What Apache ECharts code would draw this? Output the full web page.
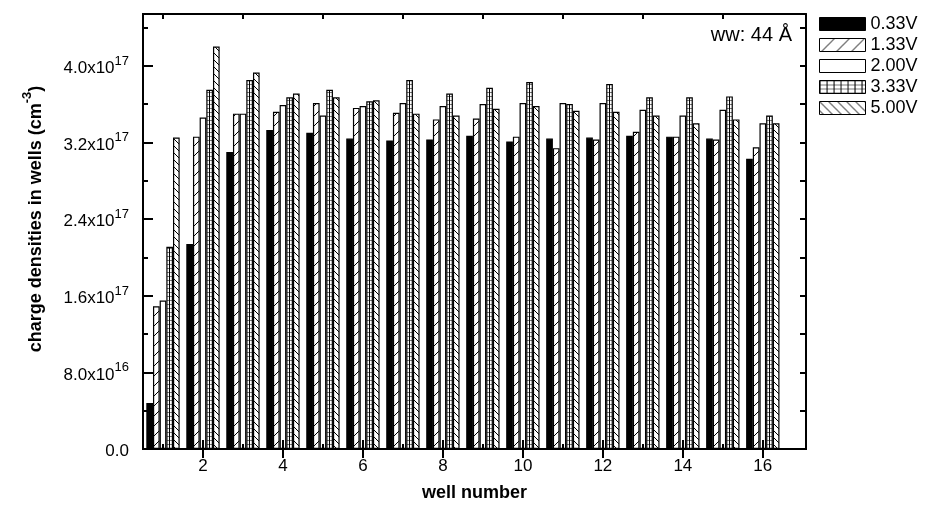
<!DOCTYPE html>
<html lang="en">
  <head>
    <meta charset="UTF-8" />
    <title>charge densities in wells</title>
    <style>
      body, html {
        margin: 0;
        width: 100%;
        height: 100%;
        background: #fff;
      }
    </style>
  </head>
  <body>
    <div id="main" style="width:926px;height:507px;"></div>

    <script src="https://cdn.jsdelivr.net/npm/echarts@6/dist/echarts.min.js"></script>
    <script>
      // values in units of 1e17 cm^-3
      const wells = [1, 2, 3, 4, 5, 6, 7, 8, 9, 10, 11, 12, 13, 14, 15, 16];
      const seriesNames = ['0.33V', '1.33V', '2.00V', '3.33V', '5.00V'];
      const v033 = [0.48, 2.14, 3.10, 3.33, 3.30, 3.24, 3.22, 3.23, 3.27, 3.21, 3.24, 3.25, 3.27, 3.26, 3.24, 3.03];
      const v133 = [1.49, 3.26, 3.50, 3.52, 3.61, 3.56, 3.51, 3.44, 3.45, 3.26, 3.14, 3.23, 3.31, 3.26, 3.23, 3.15];
      const v200 = [1.55, 3.46, 3.50, 3.59, 3.48, 3.58, 3.61, 3.58, 3.60, 3.61, 3.61, 3.61, 3.54, 3.48, 3.54, 3.40];
      const v333 = [2.11, 3.75, 3.85, 3.67, 3.75, 3.63, 3.85, 3.71, 3.77, 3.83, 3.60, 3.81, 3.67, 3.67, 3.68, 3.48];
      const v500 = [3.25, 4.20, 3.93, 3.71, 3.67, 3.64, 3.50, 3.48, 3.55, 3.58, 3.53, 3.52, 3.48, 3.40, 3.44, 3.40];

      const xMajor = [2, 4, 6, 8, 10, 12, 14, 16];
      const xMinor = [1, 3, 5, 7, 9, 11, 13, 15];
      const yMajor = [0, 0.8, 1.6, 2.4, 3.2, 4.0];
      const yMinor = [0.4, 1.2, 2.0, 2.8, 3.6, 4.4];
      const yTickLabels = ['0.0', '8.0x10^16', '1.6x10^17', '2.4x10^17', '3.2x10^17', '4.0x10^17'];

      const FONT = 'Liberation Sans, Arial, sans-serif';

      function pattern(w, h, draw) {
        const c = document.createElement('canvas');
        c.width = w;
        c.height = h;
        const ctx = c.getContext('2d');
        ctx.fillStyle = '#fff';
        ctx.fillRect(0, 0, w, h);
        ctx.strokeStyle = '#000';
        ctx.lineWidth = 1;
        draw(ctx);
        return { image: c, repeat: 'repeat' };
      }

      function slash(p) {
        return pattern(p, p, ctx => {
          ctx.beginPath();
          ctx.moveTo(-1, p + 1); ctx.lineTo(p + 1, -1);
          ctx.moveTo(-1, 1); ctx.lineTo(1, -1);
          ctx.moveTo(p - 1, p + 1); ctx.lineTo(p + 1, p - 1);
          ctx.stroke();
        });
      }

      function backslash(p) {
        return pattern(p, p, ctx => {
          ctx.beginPath();
          ctx.moveTo(-1, -1); ctx.lineTo(p + 1, p + 1);
          ctx.moveTo(p - 1, -1); ctx.lineTo(p + 1, 1);
          ctx.moveTo(-1, p - 1); ctx.lineTo(1, p + 1);
          ctx.stroke();
        });
      }

      function grid(w, h, vx) {
        return pattern(w, h, ctx => {
          ctx.strokeStyle = '#777';
          ctx.beginPath();
          ctx.moveTo(0, 0.5); ctx.lineTo(w, 0.5);
          ctx.stroke();
          ctx.strokeStyle = '#000';
          ctx.beginPath();
          vx.forEach(x => { ctx.moveTo(x, 0); ctx.lineTo(x, h); });
          ctx.stroke();
        });
      }

      const fills = ['#000', slash(10), '#fff', grid(40, 4, [9.5]), backslash(7)];
      const legendFills = ['#000', slash(15), '#fff', grid(46, 4, [0.5, 7.5, 14.5, 21.5, 28.5, 35.5, 42.5]), backslash(9)];
      const values = [v033, v133, v200, v333, v500];

      function richLabel(s) {
        const parts = s.split('^');
        return parts.length > 1 ? '{b|' + parts[0] + '}{s|' + parts[1] + '}' : '{b|' + s + '}';
      }

      const myChart = echarts.init(document.getElementById('main'));

      const xBase = {
        type: 'value',
        min: 0.5,
        max: 17.08,
        z: 3,
        splitLine: { show: false },
        axisLine: { lineStyle: { color: '#000', width: 2 } },
        axisLabel: { show: false },
      };
      const yBase = {
        type: 'value',
        min: 0,
        max: 4.54,
        z: 3,
        splitLine: { show: false },
        axisLine: { lineStyle: { color: '#000', width: 2 } },
        axisLabel: { show: false },
      };

      const option = {
        animation: false,
        backgroundColor: '#fff',
        grid: { left: 143, top: 14, width: 663, height: 436 },
        xAxis: [
          Object.assign({}, xBase, {
            position: 'bottom',
            name: 'well number',
            nameLocation: 'middle',
            nameGap: 35,
            nameTextStyle: { fontFamily: FONT, fontSize: 18, fontWeight: 'bold', color: '#000' },
            axisTick: { inside: true, length: 9, customValues: xMajor, lineStyle: { width: 2, color: '#000' } },
            axisLabel: { show: true, customValues: xMajor, margin: 9, fontFamily: FONT, fontSize: 17, color: '#000' },
          }),
          Object.assign({}, xBase, {
            position: 'bottom',
            axisTick: { inside: true, length: 5, customValues: xMinor, lineStyle: { width: 2, color: '#000' } },
          }),
          Object.assign({}, xBase, {
            position: 'top',
            axisTick: { inside: true, length: 9, customValues: xMajor, lineStyle: { width: 2, color: '#000' } },
          }),
          Object.assign({}, xBase, {
            position: 'top',
            axisTick: { inside: true, length: 5, customValues: xMinor, lineStyle: { width: 2, color: '#000' } },
          }),
        ],
        yAxis: [
          Object.assign({}, yBase, {
            position: 'left',
            axisTick: { inside: true, length: 10, customValues: yMajor, lineStyle: { width: 2, color: '#000' } },
            axisLabel: {
              show: true,
              customValues: yMajor,
              margin: 14,
              formatter: v => richLabel(yTickLabels[yMajor.findIndex(t => Math.abs(t - v) < 1e-6)] || ''),
              rich: {
                b: { fontFamily: FONT, fontSize: 17, color: '#000', verticalAlign: 'bottom', lineHeight: 22 },
                s: { fontFamily: FONT, fontSize: 13, color: '#000', verticalAlign: 'top', lineHeight: 12 },
              },
            },
          }),
          Object.assign({}, yBase, {
            position: 'left',
            axisTick: { inside: true, length: 5, customValues: yMinor, lineStyle: { width: 2, color: '#000' } },
          }),
          Object.assign({}, yBase, {
            position: 'right',
            axisTick: { inside: true, length: 6, customValues: yMajor.concat(yMinor), lineStyle: { width: 2, color: '#000' } },
          }),
        ],
        legend: {
          orient: 'vertical',
          left: 819,
          top: 15,
          padding: 0,
          itemWidth: 46,
          itemHeight: 13,
          itemGap: 3,
          icon: 'rect',
          textStyle: { fontFamily: FONT, fontSize: 18, color: '#000' },
          data: seriesNames.map((name, i) => ({
            name,
            itemStyle: { color: legendFills[i], borderColor: '#000', borderWidth: 1 },
          })),
        },
        graphic: [
          {
            type: 'text',
            x: 33,
            y: 219,
            rotation: Math.PI / 2,
            style: {
              text: '{a|charge densities in wells (cm}{s|-3}{a|)}',
              align: 'center',
              verticalAlign: 'middle',
              rich: {
                a: { fontFamily: FONT, fontSize: 18, fontWeight: 'bold', fill: '#000', verticalAlign: 'bottom', lineHeight: 24 },
                s: { fontFamily: FONT, fontSize: 13, fontWeight: 'bold', fill: '#000', verticalAlign: 'top', lineHeight: 12 },
              },
            },
          },
          {
            type: 'text',
            x: 792,
            y: 35,
            style: {
              text: 'ww: 44 Å',
              align: 'right',
              verticalAlign: 'middle',
              fontFamily: FONT,
              fontSize: 20,
              fill: '#000',
            },
          },
        ],
        series: seriesNames.map((name, i) => ({
          name,
          type: 'bar',
          xAxisIndex: 0,
          yAxisIndex: 0,
          barWidth: 6.67,
          barGap: '0%',
          itemStyle: { color: fills[i], borderColor: '#000', borderWidth: 1.2 },
          data: wells.map((w, k) => [w, values[i][k]]),
        })),
      };

      myChart.setOption(option);
    </script>
  </body>
</html>
